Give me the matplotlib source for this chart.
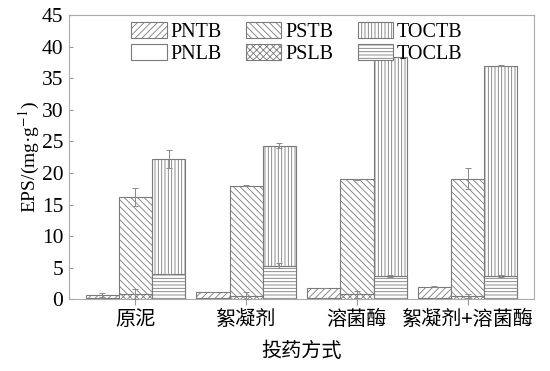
import matplotlib
matplotlib.use("Agg")
import matplotlib.pyplot as plt
import numpy as np

# Dosing methods
categories = ["原泥", "絮凝剂", "溶菌酶", "絮凝剂+溶菌酶"]

# Tightly bound (TB) and loosely bound (LB) EPS components, mg/g
pntb = [0.7, 1.1, 1.8, 2.0]
pnlb = [0.25, 0.2, 0.2, 0.3]
pstb = [16.2, 18.0, 19.0, 19.1]
pslb = [0.8, 0.6, 0.8, 0.5]
toctb = [22.2, 24.3, 38.3, 37.0]
toclb = [4.0, 5.3, 3.7, 3.7]

# Standard deviations
pntb_err = [0.3, 0.0, 0.0, 0.1]
pnlb_err = [0.0, 0.0, 0.0, 0.0]
pstb_err = [1.5, 0.1, 0.1, 1.7]
pslb_err = [0.8, 0.5, 0.5, 0.3]
toctb_err = [1.4, 0.4, 0.0, 0.05]
toclb_err = [0.0, 0.4, 0.1, 0.1]

yticks = [0, 5, 10, 15, 20, 25, 30, 35, 40, 45]

plt.rcParams["hatch.color"] = "#8a8a8a"
plt.rcParams["hatch.linewidth"] = 0.6
plt.rcParams["mathtext.fontset"] = "stix"
serif = ["Liberation Serif", "Noto Sans CJK SC", "DejaVu Serif"]
cjk = ["Noto Sans CJK SC", "DejaVu Sans"]

fig = plt.figure(figsize=(5.5, 3.71), dpi=100)
ax = fig.add_axes([0.1255, 0.193, 0.8455, 0.7666])

x = np.arange(len(categories))
w = 0.30
edge = "#7a7a7a"
err_kw = dict(ecolor="#8a8a8a", elinewidth=0.7, capsize=2.5, capthick=0.7)

groups = [
    (-w, pntb, pntb_err, "/////", "PNTB", pnlb, pnlb_err, "", "PNLB"),
    (0.0, pstb, pstb_err, "\\\\\\\\\\", "PSTB", pslb, pslb_err, "xxxxx", "PSLB"),
    (w, toctb, toctb_err, "|||||", "TOCTB", toclb, toclb_err, "-----", "TOCLB"),
]

handles = {}
for off, tb, tbe, th, tl, lb, lbe, lh, ll in groups:
    h1 = ax.bar(x + off, tb, w, yerr=tbe, color="white", edgecolor=edge,
                hatch=th, linewidth=0.8, label=tl, error_kw=err_kw, zorder=2)
    h2 = ax.bar(x + off, lb, w, yerr=lbe, color="white", edgecolor=edge,
                hatch=lh, linewidth=0.8, label=ll, error_kw=err_kw, zorder=3)
    handles[tl] = h1
    handles[ll] = h2

order = ["PNTB", "PNLB", "PSTB", "PSLB", "TOCTB", "TOCLB"]
leg = ax.legend([handles[k] for k in order], order, ncol=3, loc="upper center",
                bbox_to_anchor=(0.49, 1.01), frameon=False,
                prop={"family": serif, "size": 14.5},
                handlelength=1.75, handleheight=0.85, handletextpad=0.2,
                labelspacing=0.1, columnspacing=1.2, borderaxespad=0.1)

ax.set_xlim(-0.6, 3.6)
ax.set_ylim(0, 45)
ax.set_yticks(yticks)
ax.set_xticks(x)
ax.set_xticklabels(categories, fontsize=14.5, family=cjk)
for t in ax.get_yticklabels():
    t.set_family(serif)
    t.set_fontsize(15.5)
ax.tick_params(axis="y", direction="in", length=3, color="#999999", pad=4)
ax.tick_params(axis="x", direction="out", length=4, color="#999999", pad=3)
for s in ax.spines.values():
    s.set_color("#aaaaaa")
    s.set_linewidth(0.8)

ax.set_ylabel("EPS/(mg·g$^{-1}$)", fontsize=14, family=serif, labelpad=0)
ax.set_xlabel("投药方式", fontsize=14.5, family=cjk, labelpad=8)

fig.savefig("out.png", dpi=100)
